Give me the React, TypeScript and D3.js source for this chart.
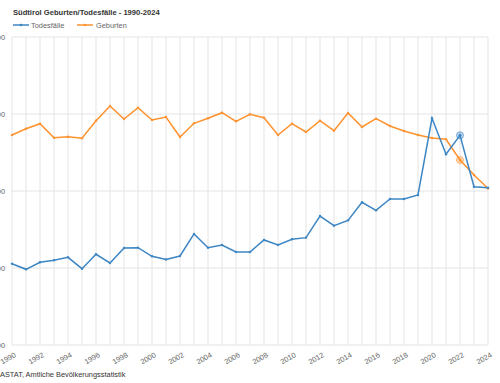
import React from "react";
import * as d3 from "d3";

const years: number[] = d3.range(1990, 2025);
const deaths: number[] = [
  3056, 2983, 3074, 3100, 3139, 2991, 3178, 3065, 3260, 3264,
  3152, 3110, 3156, 3442, 3264, 3299, 3208, 3208, 3364, 3299,
  3373, 3394, 3675, 3549, 3619, 3853, 3749, 3896, 3896, 3948,
  4944, 4477, 4723, 4056, 4043,
];
const births: number[] = [
  4727, 4809, 4874, 4692, 4705, 4684, 4913, 5104, 4935, 5082,
  4922, 4961, 4701, 4879, 4944, 5017, 4905, 4996, 4952, 4727,
  4874, 4766, 4913, 4783, 5013, 4831, 4939, 4844, 4779, 4727,
  4688, 4671, 4403, 4208, 4032,
];
const yTicks: number[] = [2000, 3000, 4000, 5000, 6000];
const xLabelYears: number[] = d3.range(1990, 2025, 2);
const highlightYear = 2022;

const W = 500;
const H = 383;
const FONT = "'Liberation Sans', Arial, Helvetica, sans-serif";
const BLUE = "#3d86c4";
const ORANGE = "#ff922f";

export default function App() {
  const x = d3.scaleLinear().domain([1990, 2024]).range([12, 488]);
  const y = d3.scaleLinear().domain([2000, 6000]).range([345, 37]);

  const line = d3
    .line<number>()
    .x((_, i) => x(years[i]))
    .y((d) => y(d));

  const hi = years.indexOf(highlightYear);

  const series = [
    { name: "Geburten", data: births, color: ORANGE },
    { name: "Todesfälle", data: deaths, color: BLUE },
  ];

  return (
    <svg
      width={W}
      height={H}
      style={{ position: "absolute", left: 0, top: 0, background: "#fff" }}
      fontFamily={FONT}
    >
      {/* title */}
      <text x={13} y={15} fontSize={7.6} fontWeight="bold" fill="#333">
        Südtirol Geburten/Todesfälle - 1990-2024
      </text>

      {/* legend */}
      <g>
        <line x1={13} x2={29} y1={25} y2={25} stroke={BLUE} strokeWidth={1.5} />
        <circle cx={21} cy={25} r={1.3} fill={BLUE} />
        <text x={31} y={27.6} fontSize={7.4} fill="#666">Todesfälle</text>
        <line x1={77} x2={93} y1={25} y2={25} stroke={ORANGE} strokeWidth={1.5} />
        <circle cx={85} cy={25} r={1.3} fill={ORANGE} />
        <text x={96} y={27.6} fontSize={7.4} fill="#666">Geburten</text>
      </g>

      {/* grid */}
      <g>
        {years.map((yr) => (
          <line
            key={"v" + yr}
            x1={x(yr)}
            x2={x(yr)}
            y1={y(6000)}
            y2={y(2000)}
            stroke="#e4e4e4"
            strokeWidth={1}
          />
        ))}
        {yTicks.map((t) => (
          <line
            key={"h" + t}
            x1={x(1990)}
            x2={x(2024)}
            y1={y(t)}
            y2={y(t)}
            stroke="#e4e4e4"
            strokeWidth={1}
          />
        ))}
      </g>

      {/* y labels */}
      {yTicks.map((t) => (
        <text
          key={"yl" + t}
          x={5}
          y={y(t) + 2.7}
          fontSize={7.4}
          fill="#666"
          textAnchor="end"
        >
          {t}
        </text>
      ))}

      {/* x labels */}
      {xLabelYears.map((yr) => (
        <text
          key={"xl" + yr}
          transform={`translate(${x(yr) + 2},${352}) rotate(-30)`}
          fontSize={7.4}
          fill="#666"
          textAnchor="end"
          dy={5}
        >
          {yr}
        </text>
      ))}

      {/* series */}
      {series.map((s) => (
        <g key={s.name}>
          <path d={line(s.data) || ""} fill="none" stroke={s.color} strokeWidth={1.5} />
          {s.data.map((v, i) => (
            <circle key={i} cx={x(years[i])} cy={y(v)} r={1.2} fill={s.color} />
          ))}
        </g>
      ))}

      {/* highlighted points */}
      {series.map((s) => (
        <g key={"hl" + s.name}>
          <circle
            cx={x(years[hi])}
            cy={y(s.data[hi])}
            r={3.5}
            fill={s.color}
            fillOpacity={0.35}
            stroke={s.color}
            strokeOpacity={0.6}
            strokeWidth={1}
          />
          <circle cx={x(years[hi])} cy={y(s.data[hi])} r={1.3} fill={s.color} />
        </g>
      ))}

      {/* source */}
      <text x={0} y={377} fontSize={7.4} fill="#333">
        ASTAT, Amtliche Bevölkerungsstatistik
      </text>
    </svg>
  );
}
